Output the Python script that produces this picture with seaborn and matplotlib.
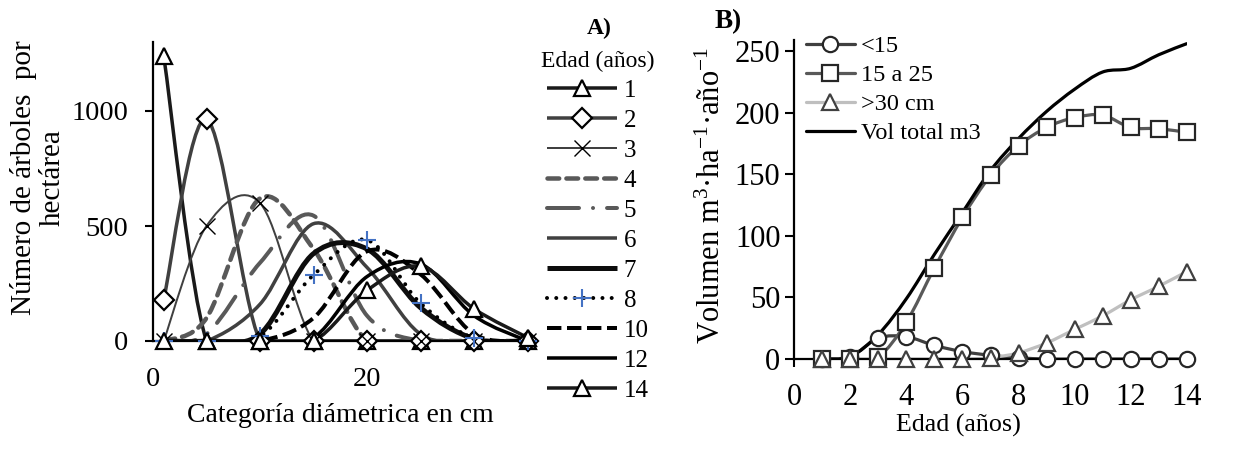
import matplotlib
matplotlib.use("Agg")
import matplotlib.pyplot as plt
import seaborn as sns
from matplotlib.path import Path
from matplotlib.patches import PathPatch
from matplotlib.lines import Line2D

# ---------------- data: panel A ----------------
diam = [1, 5, 10, 15, 20, 25, 30, 35]
age_labels = ["1", "2", "3", "4", "5", "6", "7", "8", "10", "12", "14"]
age1 = [1240, 0, 0, 0, 0, 0, 0, 0]
age2 = [180, 965, 0, 0, 0, 0, 0, 0]
age3 = [0, 500, 600, 0, 0, 0, 0, 0]
age4 = [0, 100, 620, 400, 0, 0, 0, 0]
age5 = [0, 30, 340, 545, 110, 0, 0, 0]
age6 = [0, 0, 160, 510, 320, 30, 0, 0]
age7 = [0, 0, 30, 380, 400, 145, 10, 0]
age8 = [0, 0, 20, 287, 439, 164, 13, 0]
age10 = [0, 0, 0, 100, 390, 290, 30, 0]
age12 = [0, 0, 0, 15, 280, 335, 110, 0]
age14 = [0, 0, 0, 0, 220, 325, 140, 15]
series_A = [age1, age2, age3, age4, age5, age6, age7, age8, age10, age12, age14]

# ---------------- data: panel B ----------------
edad = [1, 2, 3, 4, 5, 6, 7, 8, 9, 10, 11, 12, 13, 14]
vol_lt15 = [0, 2, 17, 18, 11, 6, 3, 1, 0, 0, 0, 0, 0, 0]
vol_15_25 = [0, 0, 2, 30, 74, 115, 149, 173, 188, 196, 198, 188, 187, 184]
vol_gt30 = [0, 0, 0, 0, 0, 0, 1, 5, 13, 24, 35, 48, 59, 71]
vol_total = [0, 2, 20, 49, 85, 119, 153, 179, 201, 219, 233, 236, 247, 256]
labels_B = ["<15", "15 a 25", ">30 cm", "Vol total m3"]

sns.set_theme(style="white")
plt.rcParams["font.family"] = ["Liberation Serif", "DejaVu Serif"]
plt.rcParams["mathtext.fontset"] = "custom"
plt.rcParams["mathtext.rm"] = "Liberation Serif"
plt.rcParams["mathtext.it"] = "Liberation Serif:italic"
plt.rcParams["mathtext.bf"] = "Liberation Serif:bold"
for k in ["text.color", "axes.labelcolor", "xtick.color", "ytick.color",
          "xtick.labelcolor", "ytick.labelcolor"]:
    plt.rcParams[k] = "black"

W, H = 1244, 449
fig = plt.figure(figsize=(W / 100, H / 100), dpi=100)
fig.patch.set_facecolor("white")

def px(v):
    return v * 0.72


def smooth_path(xs, ys):
    """Bezier (Catmull-Rom style) path through the data points, like Excel's smoothed line."""
    pts = list(zip(xs, ys))
    n = len(pts)
    verts = [pts[0]]
    codes = [Path.MOVETO]
    for i in range(n - 1):
        p0 = pts[i - 1] if i > 0 else pts[i]
        p1 = pts[i]
        p2 = pts[i + 1]
        p3 = pts[i + 2] if i + 2 < n else pts[i + 1]
        c1 = (p1[0] + (p2[0] - p0[0]) / 6.0, p1[1] + (p2[1] - p0[1]) / 6.0)
        c2 = (p2[0] - (p3[0] - p1[0]) / 6.0, p2[1] - (p3[1] - p1[1]) / 6.0)
        verts += [c1, c2, p2]
        codes += [Path.CURVE4, Path.CURVE4, Path.CURVE4]
    return Path(verts, codes)


def draw_line(ax, xs, ys, color, lw, ls="-", cap="round", z=2):
    patch = PathPatch(smooth_path(xs, ys), facecolor="none", edgecolor=color,
                      lw=px(lw), linestyle=ls, capstyle=cap, joinstyle="round",
                      transform=ax.transData, zorder=z)
    ax.add_patch(patch)


# ---------------- panel A ----------------
axA = fig.add_axes([153 / W, 108 / H, (535 - 153) / W, (341 - 42) / H])
styles_A = [
    dict(color="#1a1a1a", lw=3.5, ls="-", cap="round", marker="^", ms=11, mec="#000000", mew=1.6),
    dict(color="#404040", lw=3.5, ls="-", cap="round", marker="D", ms=10.5, mec="#000000", mew=1.6),
    dict(color="#404040", lw=2.0, ls="-", cap="round", marker="x", ms=12, mec="#000000", mew=1.0),
    dict(color="#595959", lw=4.5, ls=(0, (2.6, 1.6)), cap="round", marker=None),
    dict(color="#595959", lw=4.0, ls=(0, (8, 3.5, 0.01, 3.5)), cap="round", marker=None),
    dict(color="#404040", lw=3.5, ls="-", cap="round", marker=None),
    dict(color="#0d0d0d", lw=5.0, ls="-", cap="round", marker=None),
    dict(color="#000000", lw=4.0, ls=(0, (0.01, 2.3)), cap="round", marker="+", ms=13, mec="#4472c4", mew=1.5),
    dict(color="#000000", lw=4.0, ls=(0, (3.6, 1.4)), cap="butt", marker=None),
    dict(color="#000000", lw=3.5, ls="-", cap="round", marker=None),
    dict(color="#1a1a1a", lw=3.5, ls="-", cap="round", marker="^", ms=11, mec="#000000", mew=1.6),
]

handles_A = []
for vals, st in zip(series_A, styles_A):
    draw_line(axA, diam, vals, st["color"], st["lw"], st["ls"], st["cap"])
    if st["marker"]:
        axA.plot(diam, vals, ls="none", marker=st["marker"], ms=st["ms"],
                 mfc="white" if st["marker"] not in ("x", "+") else st["mec"],
                 mec=st["mec"], mew=st["mew"], clip_on=False, zorder=4)
    handles_A.append(Line2D([], [], color=st["color"], lw=px(st["lw"]), ls=st["ls"],
                            dash_capstyle=st["cap"], solid_capstyle="butt",
                            marker=st["marker"] if st["marker"] else None,
                            ms=st.get("ms", 0), mec=st.get("mec", None),
                            mfc="white" if st["marker"] not in ("x", "+") else st.get("mec"),
                            mew=st.get("mew", 1)))

axA.set_xlim(0, 35.7)
axA.set_ylim(0, 1300)
axA.set_xticks([0, 20])
axA.set_yticks([0, 500, 1000])
for s in ["top", "right"]:
    axA.spines[s].set_visible(False)
for s in ["left", "bottom"]:
    axA.spines[s].set_color("black")
    axA.spines[s].set_linewidth(1.6)
axA.tick_params(axis="y", direction="out", length=6, width=1.5, color="black",
                labelsize=20.5, pad=12, left=True, labelcolor="black")
axA.tick_params(axis="x", length=0, labelsize=20.5, pad=19, bottom=True, labelcolor="black")
axA.set_facecolor("white")

legA = axA.legend(handles_A, age_labels, loc="upper center",
                  bbox_to_anchor=(598 / W, 1 - 51 / H), bbox_transform=fig.transFigure,
                  frameon=False, fontsize=18, title="Edad (años)", title_fontsize=17,
                  handlelength=2.8, handletextpad=0.25, labelspacing=0.3,
                  borderpad=0, borderaxespad=0)
for t in legA.get_texts():
    t.set_color("black")
legA.get_title().set_color("black")

fig.text(599 / W, 1 - 28 / H, "A)", fontsize=17, fontweight="bold", ha="center", va="center")
fig.text(38 / W, 1 - 178 / H, "Número de árboles  por\nhectárea", rotation=90,
         fontsize=21, ha="center", va="center", multialignment="center", linespacing=1.15)
fig.text(340 / W, 1 - 416 / H, "Categoría diámetrica en cm", fontsize=20, ha="center", va="center")

# ---------------- panel B ----------------
axB = fig.add_axes([794.3 / W, 90 / H, (1186.7 - 794.3) / W, (359 - 40) / H])
styles_B = [
    dict(color="#404040", lw=3.2, marker="o", mec="#262626"),
    dict(color="#595959", lw=3.2, marker="s", mec="#262626"),
    dict(color="#bfbfbf", lw=3.2, marker="^", mec="#404040"),
    dict(color="#000000", lw=3.2, marker=None, mec=None),
]
series_B = [vol_lt15, vol_15_25, vol_gt30, vol_total]
handles_B = []
for vals, st in zip(series_B, styles_B):
    draw_line(axB, edad, vals, st["color"], st["lw"], "-", "round", z=2)
    if st["marker"]:
        axB.plot(edad, vals, ls="none", marker=st["marker"], ms=11, mfc="white",
                 mec=st["mec"], mew=1.6, clip_on=False, zorder=4)
    handles_B.append(Line2D([], [], color=st["color"], lw=px(st["lw"]),
                            marker=st["marker"], ms=11, mfc="white",
                            mec=st["mec"] if st["mec"] else st["color"], mew=1.6))

axB.set_xlim(0, 14)
axB.set_ylim(0, 259)
axB.set_xticks(range(0, 15, 2))
axB.set_yticks(range(0, 251, 50))
for s in ["top", "right"]:
    axB.spines[s].set_visible(False)
for s in ["left", "bottom"]:
    axB.spines[s].set_color("black")
    axB.spines[s].set_linewidth(1.6)
axB.tick_params(axis="y", direction="out", length=6.5, width=1.5, color="black",
                labelsize=22, pad=3.5, left=True, labelcolor="black")
axB.tick_params(axis="x", direction="out", length=6, width=1.5, color="black",
                labelsize=22, pad=11.5, bottom=True, labelcolor="black")
axB.set_facecolor("white")

legB = axB.legend(handles_B, labels_B, loc="upper left",
                  bbox_to_anchor=(806 / W, 1 - 35 / H), bbox_transform=fig.transFigure,
                  frameon=False, fontsize=17.5, handlelength=2.0, handletextpad=0.25,
                  labelspacing=0.29, borderpad=0, borderaxespad=0)
for t in legB.get_texts():
    t.set_color("black")

fig.text(728 / W, 1 - 22 / H, "B)", fontsize=19.5, fontweight="bold", ha="center", va="center")
fig.text(712 / W, 1 - 195 / H,
         r"Volumen m$^{\mathregular{3}}$·ha$^{\mathregular{-1}}$·año$^{\mathregular{-1}}$",
         rotation=90, fontsize=22, ha="center", va="center")
fig.text(958 / W, 1 - 425 / H, "Edad (años)", fontsize=18.7, ha="center", va="center")

fig.savefig("out.png", dpi=100, facecolor="white")
